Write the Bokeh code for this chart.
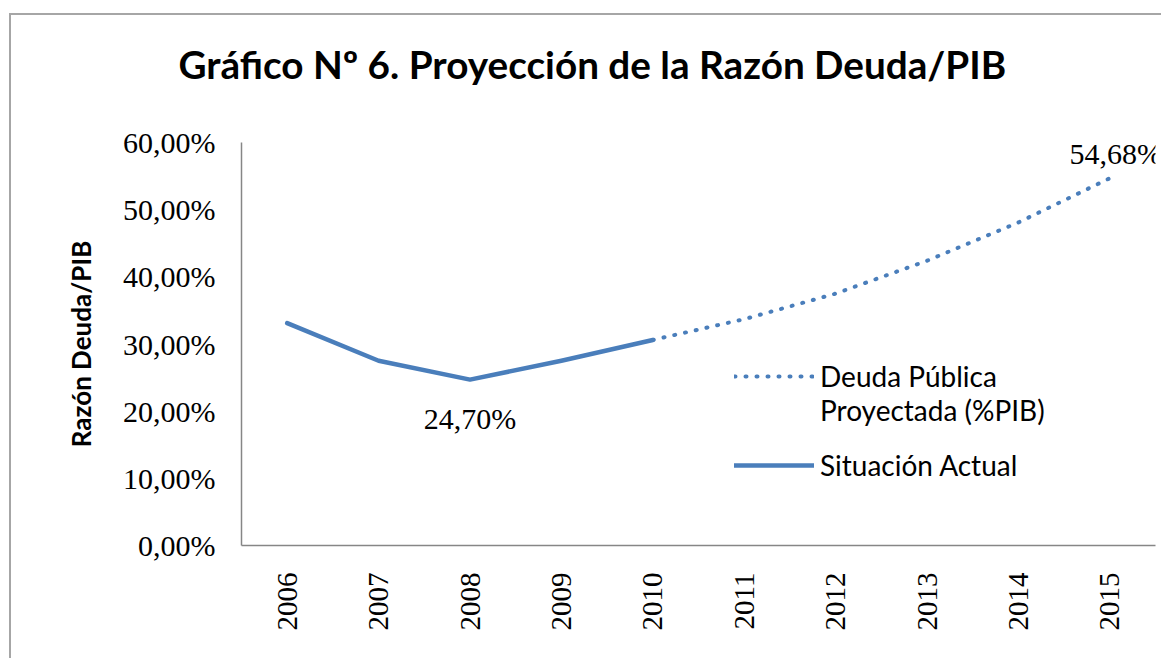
from bokeh.plotting import figure
from bokeh.models import (Range1d, FactorRange, FixedTicker, CustomJSTickFormatter,
                          Legend, LegendItem, ColumnDataSource, LabelSet, Title)
from bokeh.embed import file_html
from bokeh.resources import INLINE
import math

# ---- data ----
title_text = "Gráfico Nº 6. Proyección de la Razón Deuda/PIB"
years = ["2006", "2007", "2008", "2009", "2010", "2011", "2012", "2013", "2014", "2015"]
actual_years = ["2006", "2007", "2008", "2009", "2010"]
actual_values = [33.1, 27.5, 24.70, 27.5, 30.6]
proj_years = ["2010", "2011", "2012", "2013", "2014", "2015"]
proj_values = [30.6, 33.7, 37.5, 42.4, 48.1, 54.68]
y_ticks = [0, 10, 20, 30, 40, 50, 60]
label_years = ["2008", "2015"]
label_values = [24.70, 54.68]
label_texts = [f"{v:.2f}".replace(".", ",") + "%" for v in label_values]
legend_proj_lines = ["Deuda Pública", "Proyectada (%PIB)"]
legend_actual = "Situación Actual"

BLUE = "#4a7ebb"
AXIS = "#868686"

p = figure(width=1152, height=645, x_range=FactorRange(*years, range_padding=0),
           y_range=Range1d(0, 60), output_backend="svg", toolbar_location=None,
           min_border_left=230, min_border_right=8, min_border_top=127,
           min_border_bottom=115, title=None)
p.styles = {"border-left": "2px solid #a6a6a6", "border-top": "2px solid #a6a6a6",
            "margin-left": "9px", "margin-top": "13px"}

# title: a small spacer panel next to the frame, then the main title above it
spacer = Title(text=" ", text_font_size="10px", standoff=43)
main_title = Title(text=title_text, text_font="Lato", text_font_style="bold",
                   text_font_size="38.7px", align="left", offset=-63, standoff=0,
                   text_color="#000000")
p.add_layout(spacer, "above")
p.add_layout(main_title, "above")

p.outline_line_color = None
p.xgrid.grid_line_color = None
p.ygrid.grid_line_color = None
p.background_fill_color = "white"
p.border_fill_color = "white"

# axes
p.yaxis.ticker = FixedTicker(ticks=y_ticks)
p.yaxis.formatter = CustomJSTickFormatter(code="return tick.toFixed(2).replace('.', ',') + '%';")
p.yaxis.axis_line_color = AXIS
p.yaxis.axis_line_width = 1.5
p.yaxis.major_tick_line_color = None
p.yaxis.minor_tick_line_color = None
p.yaxis.major_label_standoff = 20
p.yaxis.major_label_text_font = "Liberation Serif"
p.yaxis.major_label_text_font_size = "30px"
p.yaxis.major_label_text_color = "#000000"
p.yaxis.axis_label = "Razón Deuda/PIB"
p.yaxis.axis_label_text_font = "Lato"
p.yaxis.axis_label_text_font_style = "bold"
p.yaxis.axis_label_text_font_size = "26px"
p.yaxis.axis_label_standoff = 23
p.yaxis.axis_label_text_color = "#000000"

p.xaxis.axis_line_color = AXIS
p.xaxis.axis_line_width = 1.5
p.xaxis.major_tick_line_color = None
p.xaxis.minor_tick_line_color = None
p.xaxis.major_label_orientation = math.pi / 2
p.xaxis.major_label_standoff = 21
p.xaxis.major_label_text_font = "Liberation Serif"
p.xaxis.major_label_text_font_size = "29px"
p.xaxis.major_label_text_color = "#000000"

# lines
r_proj = p.line(proj_years, proj_values, line_color=BLUE, line_width=4,
                line_dash="1 10", line_cap="round")
r_act = p.line(actual_years, actual_values, line_color=BLUE, line_width=4.5,
               line_cap="round", line_join="round")

# data labels
src = ColumnDataSource(dict(x=label_years, y=label_values, t=label_texts,
                            xo=[0, 6], yo=[-39, 25]))
labels = LabelSet(x="x", y="y", text="t", x_offset="xo", y_offset="yo", source=src,
                  text_font="Liberation Serif", text_font_size="30px",
                  text_align="center", text_baseline="middle", text_color="#000000")
p.add_layout(labels)


def style_legend(lg):
    lg.label_text_font = "Lato"
    lg.label_text_font_size = "28px"
    lg.label_text_color = "#000000"
    lg.glyph_width = 80
    lg.glyph_height = 34
    lg.label_height = 34
    lg.label_standoff = 6
    lg.spacing = 0
    lg.padding = 0
    lg.margin = 0
    lg.border_line_color = None
    lg.background_fill_alpha = 0
    return lg


legend_a = style_legend(Legend(items=[LegendItem(label=legend_proj_lines[0], renderers=[r_proj]),
                                      LegendItem(label=legend_proj_lines[1], renderers=[])],
                               location=(493, 118), orientation="vertical"))
legend_b = style_legend(Legend(items=[LegendItem(label=legend_actual, renderers=[r_act])],
                               location=(493, 63), orientation="vertical"))
p.add_layout(legend_a)
p.add_layout(legend_b)

open("out.html", "w").write(file_html(p, INLINE))
